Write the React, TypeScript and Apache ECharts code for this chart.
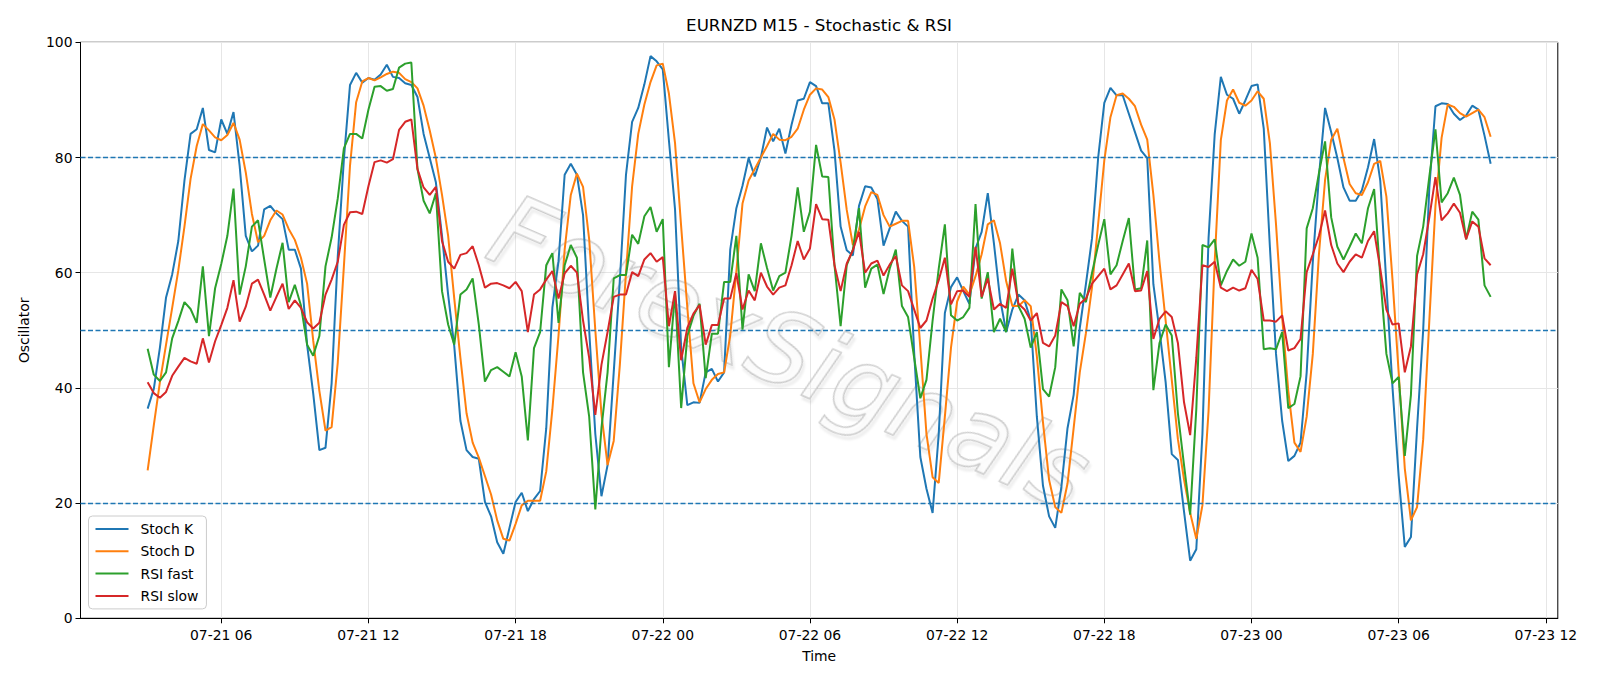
import React, { useEffect, useRef } from "react";
import * as echarts from "echarts";

// ---- data (EURNZD M15, 15-minute bars from 2025-07-21 03:00 UTC) ----
const START_TIME = "2025-07-21T03:00:00Z";
const BAR_MINUTES = 15;

const TICK_TIMES = [
  "2025-07-21T06:00:00Z", "2025-07-21T12:00:00Z", "2025-07-21T18:00:00Z",
  "2025-07-22T00:00:00Z", "2025-07-22T06:00:00Z", "2025-07-22T12:00:00Z",
  "2025-07-22T18:00:00Z", "2025-07-23T00:00:00Z", "2025-07-23T06:00:00Z",
  "2025-07-23T12:00:00Z",
];

const Y_TICKS = [0, 20, 40, 60, 80, 100];
const LEVELS = [20, 50, 80];

const STOCH_K = [
  36.4, 39.8, 47, 55.7, 59.7, 65.5, 76, 84.1, 84.9, 88.6,
  81.3, 80.9, 86.6, 84.1, 87.9, 78.6, 66.4, 63.7, 64.7, 71,
  71.6, 70.3, 69.3, 64, 64, 60.7, 47.5, 39, 29.2, 29.6,
  40.8, 62.8, 79.7, 92.6, 94.7, 93, 93.8, 93.5, 94.4, 96.1,
  94, 93.8, 92.9, 92.6, 90.5, 84.1, 79.9, 75.7, 66.4, 56.2,
  47.2, 34.3, 29.2, 28, 27.7, 20.2, 17.7, 13.2, 11.2, 15.7,
  20.2, 21.8, 18.6, 20.7, 22.1, 33, 54, 62, 77, 78.9,
  77, 70, 50, 32, 21.2, 26.6, 42.7, 58.7, 77, 86.2,
  88.6, 92.7, 97.6, 96.7, 95.3, 83, 71, 47, 37, 37.5,
  37.4, 42.7, 43.3, 41.1, 42.7, 64, 71.2, 75.1, 79.9, 76.7,
  80, 85.2, 82.8, 85, 80.7, 85.7, 89.9, 90.2, 93.1, 92.4,
  89.4, 89.4, 81.2, 68, 63.9, 63, 71.6, 75, 74.8, 72.8,
  64.7, 67.7, 70.6, 69, 68, 46, 28, 22.5, 18.3, 32,
  53, 57.5, 59.2, 56.8, 54.6, 64.2, 67.1, 73.8, 65.1, 55.5,
  49.7, 53.6, 56.2, 55.2, 51.7, 35, 23, 17.7, 15.7, 22.8,
  33, 38.8, 50.4, 58, 66, 80, 89.5, 92.1, 90.8, 90.8,
  87.6, 84.4, 81.2, 79.9, 58, 50, 41, 28.5, 27.5, 18.5,
  10, 12, 32, 66, 84, 94, 90.9, 90.2, 87.6, 89.9,
  92.4, 92.7, 85, 64.5, 45.9, 34.3, 27.3, 28.2, 30.5, 42.7,
  61.9, 76.7, 88.6, 84.4, 79.9, 74.8, 72.5, 72.5, 74.3, 78.3,
  83.2, 76, 58, 40, 24.7, 12.4, 14.1, 33, 50.1, 74.8,
  88.9, 89.4, 89.3, 87.6, 86.5, 87.3, 89, 88.3, 83.8, 78.9,
];

const STOCH_D = [
  25.7, 33.5, 41, 47.5, 53.9, 60.4, 68, 76.3, 82, 85.8,
  84.7, 83.5, 83, 83.9, 86, 83.1, 77.4, 70.2, 65.3, 66.4,
  69.1, 70.8, 70.1, 67.6, 65.7, 62.6, 58.1, 48.2, 39.5, 32.6,
  33.2, 44.4, 61.1, 78.6, 89.6, 93.2, 93.8, 93.4, 93.9, 94.5,
  94.9, 94.7, 93.6, 93.1, 92, 89, 84.7, 79.9, 73.5, 66.4,
  55.5, 45.2, 35.6, 30.5, 27.9, 24.7, 21.5, 17, 13.8, 13.5,
  16.4, 19.6, 20.4, 20.4, 20.4, 25.5, 36.3, 49.1, 64, 73.5,
  77.2, 74.9, 65.8, 50, 35.5, 26.6, 30.8, 44, 60, 75,
  84.1, 89.2, 93.1, 96, 96.3, 91.1, 82.5, 68, 54, 40.8,
  37.5, 39.8, 41.4, 42.4, 42.7, 49.1, 60.2, 72, 76, 78,
  80, 82, 84.1, 83.1, 83, 83.6, 85, 88.3, 90.9, 92,
  91.8, 90.5, 86.6, 79.1, 70.9, 64.8, 67.5, 71.5, 74, 73.5,
  70, 68, 68.5, 69, 69, 61, 47, 32, 24.5, 23.5,
  35, 47, 55, 57.6, 56.2, 59.4, 63.2, 68.4, 69.1, 65.1,
  58.5, 54.2, 54.2, 55.2, 54.2, 45.5, 34, 24, 19.3, 18.3,
  23.4, 33, 42.7, 49.5, 57.5, 68.5, 79.5, 87, 90.8, 91.1,
  90.2, 88.9, 85.7, 83.1, 73.5, 61.9, 51.7, 41.4, 31.1, 24.1,
  18.3, 13.8, 19.6, 36, 61.9, 83, 89.9, 91.8, 89.5, 89,
  89.9, 91.5, 90.2, 82.5, 68.4, 52.3, 39.5, 30.5, 28.9, 35,
  45.9, 63.2, 76.1, 83.1, 85, 79.9, 75.4, 73.8, 73.5, 75.7,
  78.9, 79.4, 73.2, 58.7, 42.7, 26, 17, 19.3, 31.1, 51.7,
  71.6, 83.4, 89.2, 88.8, 87.7, 87.1, 87.7, 88.3, 87, 83.6,
];

const RSI_FAST = [
  46.8, 42.3, 41.2, 42.7, 48.6, 51.6, 54.9, 53.7, 51.3, 61.1,
  49, 57.3, 61.5, 66.4, 74.6, 56.2, 61.1, 68, 69.1, 62.3,
  55.7, 60.7, 65.2, 54.9, 57.9, 54.3, 47.5, 45.6, 49, 61.1,
  66.1, 72.9, 81.6, 84.1, 84.1, 83.3, 88.3, 92.3, 92.4, 91.6,
  91.9, 95.6, 96.3, 96.5, 78, 72.5, 70.3, 73.8, 56.8, 51,
  47.5, 56.2, 57.1, 59, 51, 41.1, 43.1, 43.6, 42.8, 42,
  46.2, 42, 30.9, 46.9, 49.7, 61.3, 63.4, 51.3, 61.3, 64.8,
  62.6, 42.7, 35, 18.9, 33, 42.7, 59, 59.6, 59.6, 66.6,
  65, 69.8, 71.4, 67.1, 69.3, 43.6, 56.5, 36.5, 49, 52.5,
  54.6, 41.7, 49.4, 49.4, 58.4, 58.4, 66.4, 50.1, 59.7, 56.8,
  65.1, 60.8, 56.9, 59.4, 60, 66.4, 74.8, 67.1, 70.6, 82.2,
  76.7, 76.6, 61.3, 50.7, 61.3, 64, 71.2, 57.4, 60.7, 61.4,
  56.3, 60.7, 64, 54.2, 52.3, 45.2, 38.2, 41.4, 51.7, 60.7,
  68.4, 52.6, 51.7, 52.3, 53.9, 71.9, 55.5, 60.1, 49.7, 52,
  49.7, 64.2, 54.2, 52, 47, 49.7, 39.8, 38.5, 43.6, 57.1,
  55.2, 47.2, 56.5, 54.9, 60, 64.8, 69.3, 59.7, 61.3, 65.5,
  69.5, 57.1, 57.3, 65.6, 39.6, 47.8, 51, 49.1, 35.6, 26.6,
  18, 36.3, 64.8, 64.4, 65.8, 57.8, 60.3, 62.3, 61.2, 61.9,
  66.8, 62.6, 46.7, 46.9, 46.7, 49.7, 36.5, 37.2, 42, 67.7,
  71.2, 77.3, 82.8, 69.6, 64.5, 62.3, 64.5, 66.8, 65.1, 71.2,
  74.5, 59.4, 45.9, 40.8, 41.9, 28.2, 38.8, 62.9, 68, 76.7,
  84.9, 72.2, 73.8, 76.5, 73.5, 65.8, 70.6, 69.2, 57.8, 55.8,
];

const RSI_SLOW = [
  41, 39.1, 38.3, 39.3, 42.1, 43.7, 45.2, 44.6, 44.2, 48.6,
  44.4, 48.1, 50.9, 53.9, 58.7, 51.5, 54.1, 58.1, 58.8, 56.2,
  53.4, 55.8, 58.1, 53.7, 55.2, 53.9, 51.4, 50.3, 51.3, 56.2,
  58.8, 61.9, 68.3, 70.5, 70.6, 70.2, 75, 79.2, 79.5, 79.1,
  79.7, 84.8, 86.2, 86.6, 78, 74.8, 73.5, 74.9, 65.5, 61.9,
  60.7, 63.1, 63.4, 64.6, 61.3, 57.4, 58.1, 58.2, 57.8, 57.3,
  58.4, 56.8, 49.7, 56.2, 57.1, 58.8, 60.3, 55.5, 59.9, 61.2,
  60, 51.7, 45.2, 35.3, 44, 49.7, 55.8, 56.2, 56.2, 60.1,
  59.4, 62.3, 63.4, 61.9, 62.7, 50.7, 56.8, 44.8, 50.4, 52.9,
  54.4, 47.5, 50.9, 50.9, 55.5, 55.5, 59.9, 53.6, 56.9, 55.2,
  60, 57.6, 56.2, 57.4, 57.8, 61.3, 65.5, 62.3, 64.2, 71.9,
  69.3, 69.2, 61.3, 56.8, 61.6, 63.9, 67.1, 60, 61.6, 62.1,
  59.5, 61.4, 62.9, 57.8, 56.8, 53.6, 50.4, 51.7, 55.5, 58.7,
  62.6, 54.5, 56.8, 56.9, 55.8, 64.5, 55.8, 59, 53.6, 54.6,
  53.9, 60.7, 54.6, 53.6, 51.7, 53, 47.8, 47.2, 49.1, 54.9,
  54.2, 50.7, 54.6, 55.5, 58.1, 59.4, 60.7, 57.1, 57.8, 59.7,
  61.6, 56.8, 56.9, 60.3, 48.5, 52, 53.3, 52.3, 47.8, 37.5,
  31.8, 45.2, 61.3, 61, 61.9, 57.4, 56.8, 57.4, 56.9, 57.3,
  60.5, 58.9, 51.7, 51.7, 51.5, 52.6, 46.5, 46.9, 48.5, 60.1,
  63.2, 66.4, 70.8, 64.8, 61.6, 60.1, 61.9, 63.2, 62.6, 65.5,
  67.2, 60.7, 53.6, 51, 51.2, 42.7, 47.2, 59.7, 63.2, 69.6,
  76.6, 69.1, 70.3, 72, 70.4, 65.8, 68.9, 68, 62.5, 61.3,
];

const SERIES = [
  { name: "Stoch K", values: STOCH_K, color: "#1f77b4" },
  { name: "Stoch D", values: STOCH_D, color: "#ff7f0e" },
  { name: "RSI fast", values: RSI_FAST, color: "#2ca02c" },
  { name: "RSI slow", values: RSI_SLOW, color: "#d62728" },
];

const WATERMARK = "ForexSignals";
const FONT = "DejaVu Sans";

function pad2(n: number) {
  return n < 10 ? "0" + n : String(n);
}
function fmtTick(v: number) {
  const d = new Date(v);
  return `${pad2(d.getUTCMonth() + 1)}-${pad2(d.getUTCDate())} ${pad2(d.getUTCHours())}`;
}

export default function App() {
  const ref = useRef<HTMLDivElement>(null);

  useEffect(() => {
    if (!ref.current) return;
    const chart = echarts.init(ref.current, null, { renderer: "svg" });

    const t0 = Date.parse(START_TIME);
    const step = BAR_MINUTES * 60 * 1000;
    const times = STOCH_K.map((_, i) => t0 + i * step);
    const tEnd = times[times.length - 1];
    const margin = (tEnd - t0) * 0.05;
    const tickVals = TICK_TIMES.map((s) => Date.parse(s));

    const series: any[] = SERIES.map((s, idx) => ({
      name: s.name,
      type: "line",
      data: s.values.map((v, i) => [times[i], v]),
      symbol: "none",
      showSymbol: false,
      lineStyle: { color: s.color, width: 2 },
      itemStyle: { color: s.color },
      z: 3 + idx,
      silent: true,
    }));

    series.push({
      name: "levels",
      type: "line",
      data: [],
      symbol: "none",
      silent: true,
      z: 10,
      markLine: {
        silent: true,
        symbol: ["none", "none"],
        label: { show: false },
        lineStyle: { color: "#1f77b4", type: [5, 2.5], width: 1.3 },
        data: LEVELS.map((v) => ({ yAxis: v })),
      },
    });

    const option: any = {
      animation: false,
      backgroundColor: "#ffffff",
      textStyle: { fontFamily: FONT },
      title: {
        text: "EURNZD M15 - Stochastic & RSI",
        left: 819,
        top: 16,
        textAlign: "center",
        padding: 0,
        textStyle: { fontFamily: FONT, fontSize: 16.7, fontWeight: "normal", color: "#000" },
      },
      legend: {
        data: SERIES.map((s) => s.name),
        orient: "vertical",
        left: 88.5,
        top: 516,
        padding: [6, 8, 6, 6],
        itemWidth: 33,
        itemHeight: 14,
        itemGap: 8.3,
        backgroundColor: "rgba(255,255,255,0.8)",
        borderColor: "#cccccc",
        borderWidth: 1,
        borderRadius: 4,
        selectedMode: false,
        itemStyle: { opacity: 0, borderWidth: 0 },
        textStyle: { fontFamily: FONT, fontSize: 13.9, color: "#000", lineHeight: 14, padding: [0, 0, 0, 7] },
      },
      grid: {
        left: 80.5,
        right: 42.2,
        top: 42.3,
        bottom: 67.7,
        containLabel: false,
        show: true,
        borderColor: "#000",
        borderWidth: 1,
        backgroundColor: "transparent",
      },
      xAxis: {
        type: "value",
        min: t0 - margin,
        max: tEnd + margin,
        name: "Time",
        nameLocation: "middle",
        nameGap: 31,
        nameTextStyle: { fontFamily: FONT, fontSize: 13.9, color: "#000" },
        axisLine: { show: true, onZero: false, lineStyle: { color: "#000", width: 1 } },
        axisTick: { show: true, length: 5, lineStyle: { color: "#000" }, customValues: tickVals },
        axisLabel: {
          show: true,
          customValues: tickVals,
          formatter: (v: number) => fmtTick(v),
          fontFamily: FONT,
          fontSize: 13.9,
          color: "#000",
          margin: 10,
        },
        splitLine: { show: true, lineStyle: { color: "#e6e6e6", width: 1 } },
      },
      yAxis: {
        type: "value",
        min: Y_TICKS[0],
        max: Y_TICKS[Y_TICKS.length - 1],
        interval: 20,
        name: "Oscillator",
        nameLocation: "middle",
        nameGap: 50,
        nameTextStyle: { fontFamily: FONT, fontSize: 13.9, color: "#000" },
        axisLine: { show: true, lineStyle: { color: "#000", width: 1 } },
        axisTick: { show: true, length: 5, lineStyle: { color: "#000" } },
        axisLabel: { fontFamily: FONT, fontSize: 13.9, color: "#000", margin: 8 },
        splitLine: { show: true, lineStyle: { color: "#e6e6e6", width: 1 } },
      },
      graphic: [
        {
          type: "text",
          x: 790,
          y: 352,
          rotation: -0.41,
          silent: true,
          z: 1,
          style: {
            text: WATERMARK,
            fontFamily: FONT,
            fontStyle: "italic",
            fontWeight: "normal",
            fontSize: 100,
            fill: "rgba(255,255,255,0.3)",
            stroke: "rgba(175,175,175,0.7)",
            lineWidth: 1.6,
            textShadowColor: "rgba(0,0,0,0.12)",
            textShadowBlur: 2,
            textShadowOffsetX: 3,
            textShadowOffsetY: 3,
            align: "center",
            verticalAlign: "middle",
          },
        },
      ],
      series,
    };

    chart.setOption(option);
    return () => chart.dispose();
  }, []);

  return (
    <div
      ref={ref}
      style={{ position: "absolute", left: 0, top: 0, width: 1600, height: 686 }}
    />
  );
}
